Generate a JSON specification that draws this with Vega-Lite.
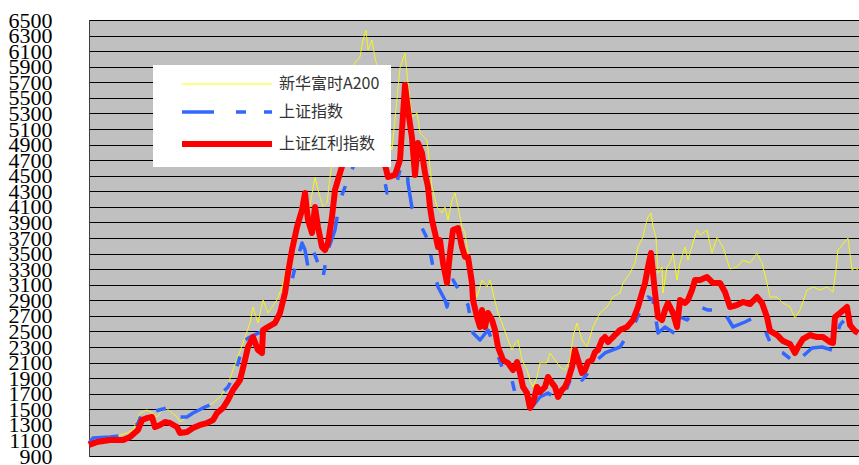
{
  "$schema": "https://vega.github.io/schema/vega-lite/v6.json",
  "width": 770,
  "height": 436,
  "autosize": {"type": "none"},
  "padding": {"left": 89, "top": 20, "right": 0, "bottom": 9},
  "background": "white",
  "config": {
    "view": {"fill": "#C0C0C0", "stroke": "#404040", "strokeWidth": 1},
    "axis": {"gridColor": "#000000", "gridWidth": 1, "gridOpacity": 1}
  },
  "data": {"values": [
{"s":"新华富时A200","t":0,"v":1067},{"s":"新华富时A200","t":21,"v":1131},{"s":"新华富时A200","t":38,"v":1195},{"s":"新华富时A200","t":44,"v":1234},{"s":"新华富时A200","t":51,"v":1452},{"s":"新华富时A200","t":58,"v":1491},{"s":"新华富时A200","t":63,"v":1452},{"s":"新华富时A200","t":68,"v":1401},{"s":"新华富时A200","t":76,"v":1529},{"s":"新华富时A200","t":88,"v":1401},{"s":"新华富时A200","t":91,"v":1337},{"s":"新华富时A200","t":98,"v":1401},{"s":"新华富时A200","t":111,"v":1491},{"s":"新华富时A200","t":124,"v":1581},{"s":"新华富时A200","t":131,"v":1658},{"s":"新华富时A200","t":138,"v":1786},{"s":"新华富时A200","t":144,"v":2005},{"s":"新华富时A200","t":154,"v":2351},{"s":"新华富时A200","t":161,"v":2608},{"s":"新华富时A200","t":164,"v":2814},{"s":"新华富时A200","t":169,"v":2608},{"s":"新华富时A200","t":174,"v":2904},{"s":"新华富时A200","t":179,"v":2737},{"s":"新华富时A200","t":188,"v":2904},{"s":"新华富时A200","t":193,"v":3071},{"s":"新华富时A200","t":199,"v":3379},{"s":"新华富时A200","t":206,"v":3713},{"s":"新华富时A200","t":211,"v":4098},{"s":"新华富时A200","t":216,"v":4317},{"s":"新华富时A200","t":219,"v":3970},{"s":"新华富时A200","t":226,"v":4483},{"s":"新华富时A200","t":229,"v":4317},{"s":"新华富时A200","t":234,"v":4098},{"s":"新华富时A200","t":238,"v":4150},{"s":"新华富时A200","t":241,"v":4483},{"s":"新华富时A200","t":244,"v":4766},{"s":"新华富时A200","t":249,"v":5151},{"s":"新华富时A200","t":254,"v":5473},{"s":"新华富时A200","t":261,"v":5794},{"s":"新华富时A200","t":266,"v":5948},{"s":"新华富时A200","t":271,"v":6025},{"s":"新华富时A200","t":274,"v":6243},{"s":"新华富时A200","t":277,"v":6372},{"s":"新华富时A200","t":279,"v":6115},{"s":"新华富时A200","t":283,"v":6243},{"s":"新华富时A200","t":286,"v":6012},{"s":"新华富时A200","t":289,"v":5858},{"s":"新华富时A200","t":296,"v":5216},{"s":"新华富时A200","t":303,"v":4830},{"s":"新华富时A200","t":311,"v":5883},{"s":"新华富时A200","t":316,"v":6076},{"s":"新华富时A200","t":319,"v":5691},{"s":"新华富时A200","t":323,"v":5254},{"s":"新华富时A200","t":328,"v":5305},{"s":"新华富时A200","t":331,"v":5049},{"s":"新华富时A200","t":338,"v":4959},{"s":"新华富时A200","t":341,"v":4612},{"s":"新华富时A200","t":343,"v":4355},{"s":"新华富时A200","t":348,"v":4098},{"s":"新华富时A200","t":353,"v":4021},{"s":"新华富时A200","t":356,"v":4098},{"s":"新华富时A200","t":359,"v":3931},{"s":"新华富时A200","t":363,"v":4188},{"s":"新华富时A200","t":366,"v":4278},{"s":"新华富时A200","t":369,"v":4098},{"s":"新华富时A200","t":373,"v":3841},{"s":"新华富时A200","t":376,"v":3764},{"s":"新华富时A200","t":379,"v":3507},{"s":"新华富时A200","t":383,"v":3161},{"s":"新华富时A200","t":388,"v":2942},{"s":"新华富时A200","t":393,"v":3161},{"s":"新华富时A200","t":398,"v":3071},{"s":"新华富时A200","t":401,"v":3161},{"s":"新华富时A200","t":404,"v":2994},{"s":"新华富时A200","t":409,"v":2737},{"s":"新华富时A200","t":413,"v":2608},{"s":"新华富时A200","t":418,"v":2428},{"s":"新华富时A200","t":423,"v":2261},{"s":"新华富时A200","t":426,"v":2351},{"s":"新华富时A200","t":429,"v":2390},{"s":"新华富时A200","t":433,"v":2133},{"s":"新华富时A200","t":438,"v":2005},{"s":"新华富时A200","t":441,"v":1876},{"s":"新华富时A200","t":444,"v":1786},{"s":"新华富时A200","t":448,"v":1915},{"s":"新华富时A200","t":451,"v":2094},{"s":"新华富时A200","t":458,"v":2094},{"s":"新华富时A200","t":461,"v":2223},{"s":"新华富时A200","t":466,"v":2133},{"s":"新华富时A200","t":471,"v":2043},{"s":"新华富时A200","t":476,"v":2005},{"s":"新华富时A200","t":481,"v":2133},{"s":"新华富时A200","t":484,"v":2428},{"s":"新华富时A200","t":488,"v":2608},{"s":"新华富时A200","t":493,"v":2390},{"s":"新华富时A200","t":498,"v":2300},{"s":"新华富时A200","t":504,"v":2557},{"s":"新华富时A200","t":511,"v":2737},{"s":"新华富时A200","t":518,"v":2814},{"s":"新华富时A200","t":524,"v":2942},{"s":"新华富时A200","t":531,"v":2994},{"s":"新华富时A200","t":534,"v":3122},{"s":"新华富时A200","t":541,"v":3250},{"s":"新华富时A200","t":546,"v":3379},{"s":"新华富时A200","t":549,"v":3584},{"s":"新华富时A200","t":554,"v":3713},{"s":"新华富时A200","t":556,"v":3841},{"s":"新华富时A200","t":559,"v":3970},{"s":"新华富时A200","t":562,"v":4021},{"s":"新华富时A200","t":564,"v":3841},{"s":"新华富时A200","t":567,"v":3713},{"s":"新华富时A200","t":569,"v":3250},{"s":"新华富时A200","t":573,"v":3328},{"s":"新华富时A200","t":574,"v":2994},{"s":"新华富时A200","t":578,"v":3328},{"s":"新华富时A200","t":581,"v":3379},{"s":"新华富时A200","t":584,"v":3507},{"s":"新华富时A200","t":588,"v":3161},{"s":"新华富时A200","t":591,"v":3379},{"s":"新华富时A200","t":596,"v":3584},{"s":"新华富时A200","t":599,"v":3417},{"s":"新华富时A200","t":604,"v":3636},{"s":"新华富时A200","t":608,"v":3803},{"s":"新华富时A200","t":611,"v":3738},{"s":"新华富时A200","t":618,"v":3803},{"s":"新华富时A200","t":623,"v":3507},{"s":"新华富时A200","t":628,"v":3713},{"s":"新华富时A200","t":634,"v":3584},{"s":"新华富时A200","t":641,"v":3302},{"s":"新华富时A200","t":648,"v":3328},{"s":"新华富时A200","t":654,"v":3417},{"s":"新华富时A200","t":661,"v":3379},{"s":"新华富时A200","t":668,"v":3507},{"s":"新华富时A200","t":673,"v":3379},{"s":"新华富时A200","t":678,"v":3122},{"s":"新华富时A200","t":681,"v":2942},{"s":"新华富时A200","t":688,"v":2942},{"s":"新华富时A200","t":694,"v":2865},{"s":"新华富时A200","t":701,"v":2814},{"s":"新华富时A200","t":706,"v":2672},{"s":"新华富时A200","t":711,"v":2775},{"s":"新华富时A200","t":718,"v":3032},{"s":"新华富时A200","t":724,"v":3071},{"s":"新华富时A200","t":731,"v":3032},{"s":"新华富时A200","t":738,"v":3071},{"s":"新华富时A200","t":744,"v":3006},{"s":"新华富时A200","t":747,"v":3289},{"s":"新华富时A200","t":749,"v":3546},{"s":"新华富时A200","t":754,"v":3623},{"s":"新华富时A200","t":759,"v":3700},{"s":"新华富时A200","t":763,"v":3289},{"s":"新华富时A200","t":766,"v":3315},{"s":"新华富时A200","t":769,"v":3289},
{"s":"上证指数","t":0,"v":1067},{"s":"上证指数","t":4,"v":1131},{"s":"上证指数","t":21,"v":1144},{"s":"上证指数","t":38,"v":1170},{"s":"上证指数","t":49,"v":1324},{"s":"上证指数","t":53,"v":1452},{"s":"上证指数","t":58,"v":1452},{"s":"上证指数","t":78,"v":1517},{"s":"上证指数","t":84,"v":1452},{"s":"上证指数","t":89,"v":1401},{"s":"上证指数","t":98,"v":1401},{"s":"上证指数","t":104,"v":1452},{"s":"上证指数","t":114,"v":1517},{"s":"上证指数","t":121,"v":1555},{"s":"上证指数","t":128,"v":1581},{"s":"上证指数","t":134,"v":1722},{"s":"上证指数","t":139,"v":1786},{"s":"上证指数","t":144,"v":1915},{"s":"上证指数","t":149,"v":2094},{"s":"上证指数","t":156,"v":2390},{"s":"上证指数","t":161,"v":2428},{"s":"上证指数","t":176,"v":2518},{"s":"上证指数","t":188,"v":2647},{"s":"上证指数","t":194,"v":2904},{"s":"上证指数","t":199,"v":3032},{"s":"上证指数","t":203,"v":3161},{"s":"上证指数","t":208,"v":3417},{"s":"上证指数","t":213,"v":3636},{"s":"上证指数","t":216,"v":3546},{"s":"上证指数","t":219,"v":3328},{"s":"上证指数","t":224,"v":3546},{"s":"上证指数","t":229,"v":3379},{"s":"上证指数","t":234,"v":3199},{"s":"上证指数","t":239,"v":3546},{"s":"上证指数","t":246,"v":3803},{"s":"上证指数","t":251,"v":4188},{"s":"上证指数","t":256,"v":4355},{"s":"上证指数","t":258,"v":4445},{"s":"上证指数","t":266,"v":4663},{"s":"上证指数","t":273,"v":4830},{"s":"上证指数","t":281,"v":4959},{"s":"上证指数","t":288,"v":4830},{"s":"上证指数","t":293,"v":4612},{"s":"上证指数","t":298,"v":4278},{"s":"上证指数","t":306,"v":4317},{"s":"上证指数","t":311,"v":4573},{"s":"上证指数","t":318,"v":4612},{"s":"上证指数","t":319,"v":4406},{"s":"上证指数","t":323,"v":4085},{"s":"上证指数","t":329,"v":3931},{"s":"上证指数","t":334,"v":3803},{"s":"上证指数","t":339,"v":3674},{"s":"上证指数","t":344,"v":3328},{"s":"上证指数","t":349,"v":3071},{"s":"上证指数","t":356,"v":2904},{"s":"上证指数","t":358,"v":2814},{"s":"上证指数","t":364,"v":3161},{"s":"上证指数","t":371,"v":3006},{"s":"上证指数","t":379,"v":2839},{"s":"上证指数","t":384,"v":2480},{"s":"上证指数","t":391,"v":2390},{"s":"上证指数","t":399,"v":2518},{"s":"上证指数","t":408,"v":2223},{"s":"上证指数","t":413,"v":2043},{"s":"上证指数","t":423,"v":1876},{"s":"上证指数","t":426,"v":1709},{"s":"上证指数","t":438,"v":1581},{"s":"上证指数","t":443,"v":1529},{"s":"上证指数","t":451,"v":1658},{"s":"上证指数","t":459,"v":1709},{"s":"上证指数","t":469,"v":1619},{"s":"上证指数","t":476,"v":1709},{"s":"上证指数","t":484,"v":1966},{"s":"上证指数","t":493,"v":1876},{"s":"上证指数","t":499,"v":1966},{"s":"上证指数","t":508,"v":2133},{"s":"上证指数","t":516,"v":2223},{"s":"上证指数","t":531,"v":2300},{"s":"上证指数","t":546,"v":2608},{"s":"上证指数","t":553,"v":2814},{"s":"上证指数","t":559,"v":2942},{"s":"上证指数","t":564,"v":2904},{"s":"上证指数","t":569,"v":2480},{"s":"上证指数","t":576,"v":2557},{"s":"上证指数","t":588,"v":2454},{"s":"上证指数","t":591,"v":2685},{"s":"上证指数","t":598,"v":2647},{"s":"上证指数","t":611,"v":2814},{"s":"上证指数","t":619,"v":2775},{"s":"上证指数","t":626,"v":2775},{"s":"上证指数","t":633,"v":2775},{"s":"上证指数","t":638,"v":2685},{"s":"上证指数","t":644,"v":2557},{"s":"上证指数","t":656,"v":2621},{"s":"上证指数","t":664,"v":2672},{"s":"上证指数","t":673,"v":2608},{"s":"上证指数","t":681,"v":2364},{"s":"上证指数","t":686,"v":2261},{"s":"上证指数","t":694,"v":2223},{"s":"上证指数","t":703,"v":2133},{"s":"上证指数","t":708,"v":2094},{"s":"上证指数","t":713,"v":2172},{"s":"上证指数","t":723,"v":2287},{"s":"上证指数","t":733,"v":2300},{"s":"上证指数","t":743,"v":2261},{"s":"上证指数","t":751,"v":2583},{"s":"上证指数","t":758,"v":2685},{"s":"上证指数","t":761,"v":2557},{"s":"上证指数","t":769,"v":2480},
{"s":"上证红利指数","t":0,"v":1041},{"s":"上证红利指数","t":8,"v":1080},{"s":"上证红利指数","t":21,"v":1105},{"s":"上证红利指数","t":34,"v":1105},{"s":"上证红利指数","t":41,"v":1144},{"s":"上证红利指数","t":49,"v":1234},{"s":"上证红利指数","t":53,"v":1362},{"s":"上证红利指数","t":58,"v":1388},{"s":"上证红利指数","t":63,"v":1401},{"s":"上证红利指数","t":66,"v":1272},{"s":"上证红利指数","t":71,"v":1298},{"s":"上证红利指数","t":76,"v":1337},{"s":"上证红利指数","t":81,"v":1324},{"s":"上证红利指数","t":88,"v":1272},{"s":"上证红利指数","t":91,"v":1195},{"s":"上证红利指数","t":98,"v":1208},{"s":"上证红利指数","t":104,"v":1260},{"s":"上证红利指数","t":111,"v":1298},{"s":"上证红利指数","t":118,"v":1324},{"s":"上证红利指数","t":124,"v":1362},{"s":"上证红利指数","t":128,"v":1452},{"s":"上证红利指数","t":134,"v":1517},{"s":"上证红利指数","t":139,"v":1619},{"s":"上证红利指数","t":144,"v":1748},{"s":"上证红利指数","t":149,"v":1838},{"s":"上证红利指数","t":151,"v":1876},{"s":"上证红利指数","t":156,"v":2133},{"s":"上证红利指数","t":159,"v":2300},{"s":"上证红利指数","t":164,"v":2428},{"s":"上证红利指数","t":169,"v":2261},{"s":"上证红利指数","t":173,"v":2223},{"s":"上证红利指数","t":174,"v":2518},{"s":"上证红利指数","t":179,"v":2557},{"s":"上证红利指数","t":186,"v":2608},{"s":"上证红利指数","t":191,"v":2737},{"s":"上证红利指数","t":196,"v":2994},{"s":"上证红利指数","t":199,"v":3250},{"s":"上证红利指数","t":203,"v":3546},{"s":"上证红利指数","t":208,"v":3841},{"s":"上证红利指数","t":213,"v":4060},{"s":"上证红利指数","t":216,"v":4278},{"s":"上证红利指数","t":219,"v":3931},{"s":"上证红利指数","t":223,"v":3764},{"s":"上证红利指数","t":226,"v":4098},{"s":"上证红利指数","t":229,"v":3841},{"s":"上证红利指数","t":233,"v":3584},{"s":"上证红利指数","t":236,"v":3546},{"s":"上证红利指数","t":239,"v":3636},{"s":"上证红利指数","t":243,"v":3970},{"s":"上证红利指数","t":246,"v":4317},{"s":"上证红利指数","t":251,"v":4535},{"s":"上证红利指数","t":254,"v":4663},{"s":"上证红利指数","t":258,"v":4702},{"s":"上证红利指数","t":266,"v":5087},{"s":"上证红利指数","t":276,"v":5344},{"s":"上证红利指数","t":283,"v":5215},{"s":"上证红利指数","t":289,"v":4830},{"s":"上证红利指数","t":296,"v":4638},{"s":"上证红利指数","t":299,"v":4483},{"s":"上证红利指数","t":306,"v":4510},{"s":"上证红利指数","t":311,"v":4702},{"s":"上证红利指数","t":316,"v":5665},{"s":"上证红利指数","t":319,"v":5344},{"s":"上证红利指数","t":323,"v":4984},{"s":"上证红利指数","t":326,"v":4509},{"s":"上证红利指数","t":329,"v":4920},{"s":"上证红利指数","t":333,"v":4792},{"s":"上证红利指数","t":336,"v":4535},{"s":"上证红利指数","t":339,"v":4355},{"s":"上证红利指数","t":341,"v":4098},{"s":"上证红利指数","t":343,"v":3931},{"s":"上证红利指数","t":346,"v":3764},{"s":"上证红利指数","t":349,"v":3584},{"s":"上证红利指数","t":351,"v":3674},{"s":"上证红利指数","t":354,"v":3379},{"s":"上证红利指数","t":358,"v":3122},{"s":"上证红利指数","t":361,"v":3507},{"s":"上证红利指数","t":364,"v":3803},{"s":"上证红利指数","t":369,"v":3828},{"s":"上证红利指数","t":373,"v":3584},{"s":"上证红利指数","t":376,"v":3456},{"s":"上证红利指数","t":379,"v":3456},{"s":"上证红利指数","t":383,"v":3122},{"s":"上证红利指数","t":384,"v":2904},{"s":"上证红利指数","t":388,"v":2685},{"s":"上证红利指数","t":391,"v":2557},{"s":"上证红利指数","t":393,"v":2775},{"s":"上证红利指数","t":396,"v":2557},{"s":"上证红利指数","t":399,"v":2737},{"s":"上证红利指数","t":403,"v":2647},{"s":"上证红利指数","t":406,"v":2518},{"s":"上证红利指数","t":409,"v":2300},{"s":"上证红利指数","t":414,"v":2133},{"s":"上证红利指数","t":419,"v":2094},{"s":"上证红利指数","t":424,"v":2005},{"s":"上证红利指数","t":428,"v":2107},{"s":"上证红利指数","t":431,"v":1966},{"s":"上证红利指数","t":434,"v":1786},{"s":"上证红利指数","t":438,"v":1709},{"s":"上证红利指数","t":441,"v":1517},{"s":"上证红利指数","t":444,"v":1581},{"s":"上证红利指数","t":448,"v":1786},{"s":"上证红利指数","t":451,"v":1722},{"s":"上证红利指数","t":456,"v":1786},{"s":"上证红利指数","t":459,"v":1915},{"s":"上证红利指数","t":463,"v":1838},{"s":"上证红利指数","t":466,"v":1786},{"s":"上证红利指数","t":469,"v":1658},{"s":"上证红利指数","t":473,"v":1748},{"s":"上证红利指数","t":476,"v":1786},{"s":"上证红利指数","t":479,"v":1876},{"s":"上证红利指数","t":483,"v":2043},{"s":"上证红利指数","t":486,"v":2261},{"s":"上证红利指数","t":489,"v":2133},{"s":"上证红利指数","t":493,"v":1966},{"s":"上证红利指数","t":496,"v":2005},{"s":"上证红利指数","t":499,"v":2107},{"s":"上证红利指数","t":503,"v":2133},{"s":"上证红利指数","t":506,"v":2236},{"s":"上证红利指数","t":509,"v":2261},{"s":"上证红利指数","t":513,"v":2390},{"s":"上证红利指数","t":516,"v":2428},{"s":"上证红利指数","t":519,"v":2364},{"s":"上证红利指数","t":524,"v":2428},{"s":"上证红利指数","t":531,"v":2518},{"s":"上证红利指数","t":538,"v":2557},{"s":"上证红利指数","t":544,"v":2647},{"s":"上证红利指数","t":549,"v":2814},{"s":"上证红利指数","t":553,"v":2994},{"s":"上证红利指数","t":556,"v":3122},{"s":"上证红利指数","t":559,"v":3328},{"s":"上证红利指数","t":562,"v":3507},{"s":"上证红利指数","t":564,"v":3250},{"s":"上证红利指数","t":566,"v":2994},{"s":"上证红利指数","t":569,"v":2685},{"s":"上证红利指数","t":573,"v":2647},{"s":"上证红利指数","t":576,"v":2775},{"s":"上证红利指数","t":579,"v":2865},{"s":"上证红利指数","t":584,"v":2737},{"s":"上证红利指数","t":588,"v":2557},{"s":"上证红利指数","t":591,"v":2904},{"s":"上证红利指数","t":596,"v":2865},{"s":"上证红利指数","t":599,"v":2904},{"s":"上证红利指数","t":603,"v":3032},{"s":"上证红利指数","t":606,"v":3161},{"s":"上证红利指数","t":611,"v":3161},{"s":"上证红利指数","t":618,"v":3199},{"s":"上证红利指数","t":624,"v":3122},{"s":"上证红利指数","t":631,"v":3122},{"s":"上证红利指数","t":636,"v":3006},{"s":"上证红利指数","t":641,"v":2814},{"s":"上证红利指数","t":648,"v":2839},{"s":"上证红利指数","t":654,"v":2878},{"s":"上证红利指数","t":661,"v":2852},{"s":"上证红利指数","t":668,"v":2942},{"s":"上证红利指数","t":673,"v":2865},{"s":"上证红利指数","t":678,"v":2685},{"s":"上证红利指数","t":681,"v":2506},{"s":"上证红利指数","t":688,"v":2454},{"s":"上证红利指数","t":694,"v":2377},{"s":"上证红利指数","t":701,"v":2339},{"s":"上证红利指数","t":706,"v":2223},{"s":"上证红利指数","t":709,"v":2300},{"s":"上证红利指数","t":714,"v":2403},{"s":"上证红利指数","t":721,"v":2454},{"s":"上证红利指数","t":728,"v":2428},{"s":"上证红利指数","t":734,"v":2428},{"s":"上证红利指数","t":741,"v":2364},{"s":"上证红利指数","t":744,"v":2351},{"s":"上证红利指数","t":746,"v":2685},{"s":"上证红利指数","t":751,"v":2737},{"s":"上证红利指数","t":758,"v":2814},{"s":"上证红利指数","t":761,"v":2583},{"s":"上证红利指数","t":766,"v":2506},{"s":"上证红利指数","t":769,"v":2480}
  ]},
  "mark": {"type": "line", "strokeCap": "butt", "strokeJoin": "round"},
  "encoding": {
    "x": {"field": "t", "type": "quantitative", "scale": {"domain": [0, 770], "nice": false, "zero": false}, "axis": null},
    "y": {
      "field": "v", "type": "quantitative",
      "scale": {"domain": [900, 6500], "nice": false, "zero": false},
      "axis": {
        "title": null,
        "values": [900,1100,1300,1500,1700,1900,2100,2300,2500,2700,2900,3100,3300,3500,3700,3900,4100,4300,4500,4700,4900,5100,5300,5500,5700,5900,6100,6300,6500],
        "grid": true, "ticks": false, "domain": true, "domainColor": "#404040",
        "labelFont": "Liberation Serif", "labelFontSize": 22, "labelColor": "#000000",
        "labelPadding": 37, "labelOverlap": false, "labelBound": false, "labelFlush": false,
        "format": "d"
      }
    },
    "color": {
      "field": "s", "type": "nominal",
      "scale": {"domain": ["新华富时A200", "上证指数", "上证红利指数"], "range": ["#FFFF00", "#3366FF", "#FF0000"]},
      "legend": {
        "title": null, "orient": "none", "legendX": 64, "legendY": 45,
        "fillColor": "#FFFFFF", "padding": 11, "symbolOffset": 55,
        "symbolType": "M-9,0H9", "symbolSize": 100, "labelOffset": 44,
        "labelFont": "Noto Sans CJK SC", "labelFontSize": 16, "labelColor": "#333333",
        "rowPadding": 12
      }
    },
    "strokeWidth": {
      "field": "s", "type": "nominal",
      "scale": {"domain": ["新华富时A200", "上证指数", "上证红利指数"], "range": [1, 6, 7]},
      "legend": null
    },
    "strokeDash": {
      "field": "s", "type": "nominal",
      "scale": {"domain": ["新华富时A200", "上证指数", "上证红利指数"], "range": [[1, 0], [32, 22, 10, 18, 10, 18], [1, 0]]},
      "legend": null
    },
    "order": {"field": "t", "type": "quantitative"}
  }
}
